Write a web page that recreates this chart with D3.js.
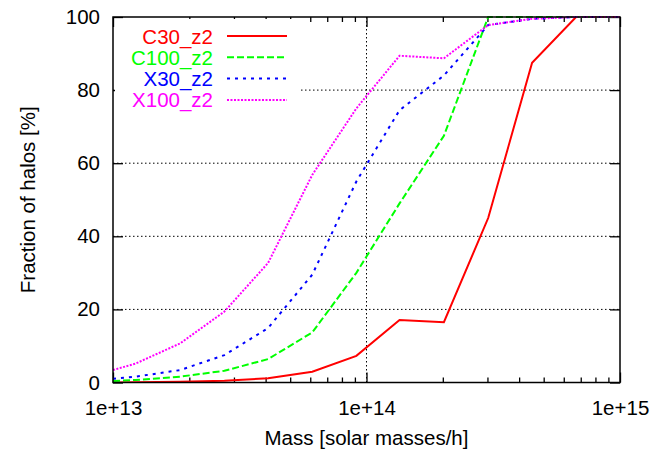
<!DOCTYPE html>
<html>
<head>
<meta charset="utf-8">
<script src="https://cdn.jsdelivr.net/npm/d3@7"></script>
<style>
body{margin:0;background:#fff;}
text{font-family:"Liberation Sans",Arial,sans-serif;}
</style>
</head>
<body>
<svg id="chart" width="654" height="449"></svg>
<script>
// halo masses (solar masses/h), bin centres
var mass = [1e13, 1.23e13, 1.84e13, 2.75e13, 4.09e13, 6.11e13, 9.12e13, 1.35e14, 2.02e14, 3.02e14, 4.5e14, 6.71e14, 1e15];
var c30_z2  = [0, 0.1, 0.2, 0.5, 1.15, 2.95, 7.3, 17.1, 16.5, 45, 87.5, 100, 100];
var c100_z2 = [0.4, 0.7, 1.6, 3.2, 6.4, 13.7, 30, 49, 67.5, 100, 100, 100, 100];
var x30_z2  = [1.0, 1.6, 3.4, 7.5, 14.9, 29.5, 55, 74.5, 84, 97.8, 99.5, 100, 100];
var x100_z2 = [3.4, 5.2, 10.7, 19.4, 32.7, 56.8, 75, 89.4, 88.7, 97.8, 99.5, 100, 100];
var seriesNames = ["C30_z2", "C100_z2", "X30_z2", "X100_z2"];
var xMajor = [1e13, 1e14, 1e15];
var yTicks = [0, 20, 40, 60, 80, 100];

(function(){
"use strict";
var left=113, right=620, top=17, bottom=382.5;
var fs = 20.5;
var svg = d3.select("#chart");

var x = d3.scaleLog().domain([1e13,1e15]).range([left,right]);
var y = d3.scaleLinear().domain([0,100]).range([bottom,top]);

var xMinor = [];
[1e13,1e14].forEach(function(d){ for(var k=2;k<10;k++) xMinor.push(d*k); });

// grid
var grid = svg.append("g").attr("stroke","#000").attr("stroke-width",1)
    .attr("stroke-dasharray","1.5,2.5");
grid.selectAll("line.gy").data([20,40,60,80]).enter().append("line")
    .attr("x1",left).attr("x2",right).attr("y1",d=>y(d)).attr("y2",d=>y(d));
grid.append("line").attr("x1",x(1e14)).attr("x2",x(1e14)).attr("y1",top).attr("y2",bottom);

// axes
function style(g){
    g.select(".domain").remove();
    g.selectAll("line").attr("stroke","#000").attr("stroke-width",1.3);
    g.selectAll("text").style("font-size",fs+"px").attr("fill","#000");
}
svg.append("g").attr("transform","translate(0,"+bottom+")")
    .call(d3.axisBottom(x).tickValues(xMajor).tickSize(-10).tickPadding(18)
        .tickFormat(d=>"1e+"+Math.round(Math.log10(d))))
    .call(style);
svg.append("g").attr("transform","translate(0,"+bottom+")")
    .call(d3.axisBottom(x).tickValues(xMinor).tickSize(-5).tickFormat(""))
    .call(style);
svg.append("g").attr("transform","translate(0,"+top+")")
    .call(d3.axisTop(x).tickValues(xMajor).tickSize(-10).tickFormat(""))
    .call(style);
svg.append("g").attr("transform","translate(0,"+top+")")
    .call(d3.axisTop(x).tickValues(xMinor).tickSize(-5).tickFormat(""))
    .call(style);
svg.append("g").attr("transform","translate("+left+",0)")
    .call(d3.axisLeft(y).tickValues(yTicks).tickSize(-10).tickPadding(13))
    .call(style);
svg.append("g").attr("transform","translate("+right+",0)")
    .call(d3.axisRight(y).tickValues(yTicks).tickSize(-10).tickFormat(""))
    .call(style);

// legend background hides the grid
svg.append("rect").attr("x",left+2).attr("y",top+2).attr("width",185).attr("height",92).attr("fill","#fff");

var colors = ["#ff0000","#00ff00","#0000ff","#ff00ff"];
var dashes = [null,"7,3","3,5","2,1.5"];
var allData = [c30_z2, c100_z2, x30_z2, x100_z2];

var clip = svg.append("clipPath").attr("id","clip").append("rect")
    .attr("x",left).attr("y",top-2).attr("width",right-left).attr("height",bottom-top+2);

var line = d3.line().x((d,i)=>x(mass[i])).y(d=>y(d));
var lines = svg.append("g").attr("clip-path","url(#clip)");
allData.forEach(function(vals,k){
    lines.append("path").datum(vals)
        .attr("d",line).attr("fill","none")
        .attr("stroke",colors[k]).attr("stroke-width",2)
        .attr("stroke-dasharray",dashes[k]);
});

// legend
var leg = svg.append("g");
seriesNames.forEach(function(name,k){
    var yy = 36 + k*21.3;
    leg.append("text").attr("x",213).attr("y",yy+7.5).attr("text-anchor","end")
        .style("font-size",fs+"px").attr("fill",colors[k]).text(name);
    leg.append("line").attr("x1",227).attr("x2",287).attr("y1",yy).attr("y2",yy)
        .attr("stroke",colors[k]).attr("stroke-width",2).attr("stroke-dasharray",dashes[k]);
});

// border
svg.append("rect").attr("x",left).attr("y",top).attr("width",right-left).attr("height",bottom-top)
    .attr("fill","none").attr("stroke","#000").attr("stroke-width",1.5);

// axis titles
svg.append("text").attr("x",(left+right)/2).attr("y",445).attr("text-anchor","middle")
    .style("font-size",fs+"px").text("Mass [solar masses/h]");
svg.append("text").attr("transform","translate(35,"+((top+bottom)/2)+") rotate(-90)")
    .attr("text-anchor","middle").style("font-size",fs+"px").text("Fraction of halos [%]");
})();
</script>
</body>
</html>
